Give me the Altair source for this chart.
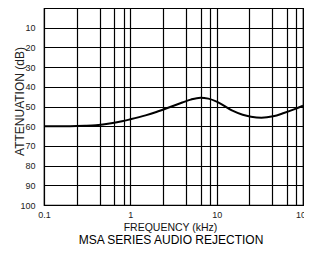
import altair as alt
import pandas as pd

freq_khz = [0.1, 0.2, 0.3, 0.4, 0.6, 0.8, 1, 1.5, 2, 3, 4, 5, 6.5, 8, 10, 15, 20, 25, 33, 45, 60, 80, 100]
atten_db = [60, 60, 59.8, 59.5, 58.5, 57.5, 56.5, 54.5, 52.8, 50, 48, 46.5, 45.5, 46, 47.5, 52, 54.2, 55.2, 55.7, 55, 53.3, 51.3, 49.6]

x_grid = [0.1, 0.24, 0.44, 0.65, 0.84, 1, 2.4, 4.4, 6.5, 8.4, 10, 24, 44, 65, 84, 100]
x_labels = [0.1, 1, 10, 100]
y_grid = [0, 10, 20, 30, 40, 50, 60, 70, 80, 90, 100]

df = pd.DataFrame({"f": freq_khz, "a": atten_db})

FONT = "Liberation Sans"

label_test = "||".join(f"datum.value=={v}" for v in x_labels)

chart = alt.Chart(df).mark_line(color="black", strokeWidth=2, interpolate="monotone").encode(
    x=alt.X("f:Q", scale=alt.Scale(type="log", domain=[0.1, 100]),
            axis=alt.Axis(values=x_grid, grid=True, ticks=False, domain=False,
                          labelExpr=f"({label_test}) ? datum.label : ''",
                          format="~g", labelPadding=5, labelFontSize=9, labelColor="#222",
                          title="FREQUENCY (kHz)", titleFontSize=10.5, titleFontWeight="normal",
                          titleColor="#111", titleX=126, titleY=25, titleBaseline="alphabetic",
                          gridColor="black", gridOpacity=1, gridWidth=1.2, labelFlush=False,
                          labelOverlap=False)),
    y=alt.Y("a:Q", scale=alt.Scale(domain=[0, 100], reverse=True, nice=False),
            axis=alt.Axis(values=y_grid, grid=True, ticks=False, domain=False,
                          labelExpr="datum.value==0 ? '' : datum.label",
                          labelPadding=9, labelFontSize=9, labelColor="#222",
                          title="ATTENUATION (dB)", titleFontSize=12, titleFontWeight="normal",
                          titleColor="#222", titleX=-21, titleY=93, titleBaseline="alphabetic",
                          gridColor="black", gridOpacity=1, gridWidth=1.2,
                          labelOverlap=False)),
).properties(
    width=259, height=197,
    title=alt.TitleParams("MSA SERIES AUDIO REJECTION", orient="bottom", fontSize=12,
                          fontWeight="normal", font=FONT, color="black", offset=2, dx=-2.5),
    autosize=alt.AutoSizeParams(type="none"),
    padding={"left": 36, "top": 0, "right": 1, "bottom": 40},
).configure_axis(
    labelFont=FONT, titleFont=FONT
).configure_view(
    stroke="black", strokeWidth=1.2
)

chart.save("out.html", embed_options={"renderer": "svg", "actions": False})
